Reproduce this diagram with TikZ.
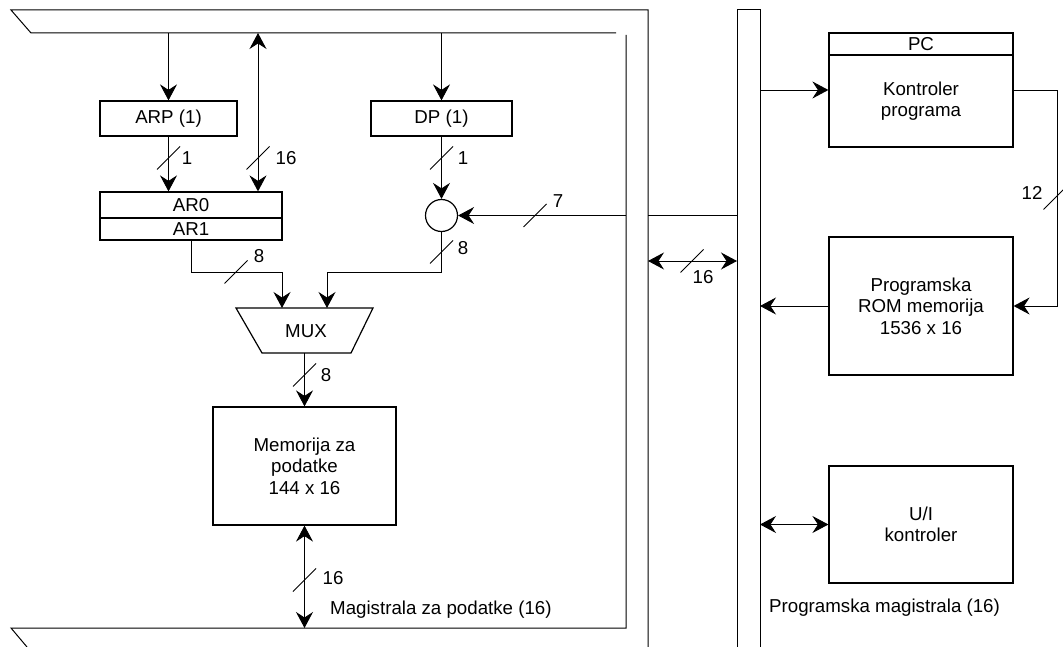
\documentclass[tikz,border=0pt]{standalone}
\usepackage{fontspec}
\setmainfont{Liberation Sans}
\usetikzlibrary{arrows.meta,calc}
\begin{document}
\begin{tikzpicture}[x=1pt,y=-1pt,
  every node/.style={font=\fontsize{18.7}{21.5}\selectfont},
  box/.style={draw, line width=1.2pt, inner sep=0pt, align=center},
  wire/.style={line width=0.9pt},
  tip/.tip={Stealth[length=16pt,width=17pt,inset=5.5pt]},
  arr/.style={wire,-tip},
  darr/.style={wire,tip-tip},
  bus/.style={line width=1pt},
  slash/.style={line width=0.8pt},
  lbl/.style={inner sep=0pt}
]
\useasboundingbox (0,0) rectangle (1063,647);

% data bus
\draw[bus] (648,647) -- (648,10) -- (11,10) -- (31,33) -- (616,33);
\draw[bus] (626,35) -- (626,628) -- (11,628) -- (27,647);
% program bus
\draw[bus] (737,647) -- (737,10) -- (760,10) -- (760,647);

% boxes
\node[box, minimum width=137pt, minimum height=35pt] (arp) at (168.5,118.5) {ARP (1)};
\node[box, minimum width=141pt, minimum height=35pt] (dp) at (441.5,118.5) {DP (1)};
\node[box, minimum width=182pt, minimum height=26pt] (ar0) at (191,205) {AR0};
\node[box, minimum width=182pt, minimum height=22pt] (ar1) at (191,229) {AR1};
\node[circle, draw, line width=1.2pt, minimum size=32pt, inner sep=0pt] (cir) at (441.5,215.5) {};
\draw[line width=1.2pt] (236,308) -- (373,308) -- (351,353) -- (262,353) -- cycle;
\node (mux) at (306,331) {MUX};
\node[box, minimum width=183pt, minimum height=118pt] (mem) at (304.5,466) {Memorija za\\podatke\\144 x 16};
\node[box, minimum width=184pt, minimum height=22pt] (pc) at (921,44) {PC};
\node[box, minimum width=184pt, minimum height=92pt] (kp) at (921,101) {Kontroler\\programa};
\node[box, minimum width=184pt, minimum height=138pt] (rom) at (921,306) {Programska\\ROM memorija\\1536 x 16};
\node[box, minimum width=184pt, minimum height=117pt] (ui) at (921,524.5) {U/I\\kontroler};

% connectors
\coordinate (tARP) at (168.5,33);
\draw[arr] (tARP) -- (arp.north);
\coordinate (t16) at (258,33);
\draw[darr] (t16) -- (t16 |- ar0.north);
\draw[arr] (arp.south) -- (arp.south |- ar0.north);
\coordinate (tDP) at (441.5,33);
\draw[arr] (tDP) -- (dp.north);
\draw[arr] (dp.south) -- (cir.north);
\coordinate (pb7) at (737,215.5);
\coordinate (db7a) at (648,215.5);
\coordinate (db7b) at (626,215.5);
\draw[wire] (pb7) -- (db7a);
\draw[arr] (db7b) -- (cir.east);
\coordinate (m1) at (282,308);
\coordinate (m2) at (327,308);
\draw[arr] (ar1.south) |- ($(m1)+(0,-36)$) -- (m1);
\draw[arr] (cir.south) |- ($(m2)+(0,-36)$) -- (m2);
\coordinate (mo) at (304.5,353);
\draw[arr] (mo) -- (mem.north);
\coordinate (bb) at (304.5,628);
\draw[darr] (mem.south) -- (bb);
\coordinate (db16) at (648,261);
\coordinate (pb16) at (737,261);
\draw[darr] (db16) -- (pb16);
\coordinate (pbk) at (760,90);
\draw[arr] (pbk) -- (pbk -| kp.west);
\coordinate (r1) at (1057,90);
\coordinate (r2) at (1057,306);
\draw[arr] (pbk -| kp.east) -- (r1) -- (r2) -- (rom.east);
\coordinate (pbr) at (760,306);
\draw[arr] (rom.west) -- (pbr);
\coordinate (pbu) at (760,524.5);
\draw[darr] (pbu) -- (ui.west);

% slashes
\foreach \p in {(168.5,158),(258,158),(441.5,158),(236,272),(441.5,252),(535,215.5),(304.5,375),(304.5,580),(692,261),(1055,198)}
  \draw[slash] \p ++(-11.5,11.5) -- ++(23,-23);

% labels
\node[lbl] (l1) at (187,158) {1};
\node[lbl] (l2) at (286,158) {16};
\node[lbl] (l3) at (463,158) {1};
\node[lbl] (l4) at (259,256) {8};
\node[lbl] (l5) at (463,248) {8};
\node[lbl] (l6) at (558,201) {7};
\node[lbl] (l7) at (326,375) {8};
\node[lbl] (l8) at (333,578) {16};
\node[lbl] (l9) at (703,277) {16};
\node[lbl] (l10) at (1032,193) {12};
\node[lbl, anchor=west] (bl1) at (330,610) {Magistrala za podatke (16)};
\node[lbl, anchor=west] (bl2) at (769,608) {Programska magistrala (16)};
\end{tikzpicture}
\end{document}
